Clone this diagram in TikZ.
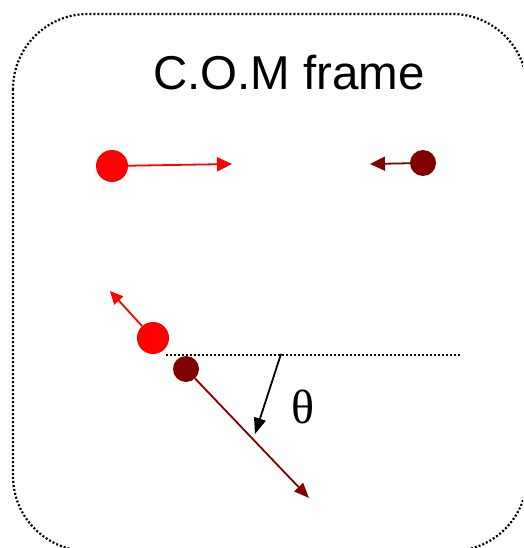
\documentclass[tikz,border=0pt]{standalone}
\usepackage{fontspec}
\setmainfont{Liberation Sans}
\newfontfamily\serifgr{Liberation Serif}
\usetikzlibrary{arrows.meta}
\definecolor{darkred}{HTML}{800000}
\tikzset{
  ball/.style={circle, fill=#1, draw=none, inner sep=0pt},
  vec/.style={draw=#1, line width=1.8pt, -{Triangle[length=15pt,width=14pt]}},
  dotline/.style={line width=2.2pt, dash pattern=on 2pt off 2pt},
}
\begin{document}
\begin{tikzpicture}[x=1pt,y=-1pt]
\clip (0,0) rectangle (523,548);
\fill[white] (0,0) rectangle (523,548);
\draw[dotline, rounded corners=75pt] (13,14) rectangle (527,551);
\node[anchor=base, inner sep=0pt, font=\fontsize{47.5}{56}\selectfont] (title) at (289,90) {C.O.M frame};
% before collision
\node[ball=red, minimum size=32pt] (r1) at (112,166) {};
\coordinate (r1tip) at (232,164);
\draw[vec=red] (r1) -- (r1tip);
\node[ball=darkred, minimum size=26pt] (d1) at (423,163) {};
\coordinate (d1tip) at (370,164);
\draw[vec=darkred] (d1) -- (d1tip);
% after collision
\node[ball=red, minimum size=32pt] (r2) at (153,338) {};
\coordinate (r2tip) at (110,291);
\draw[vec=red, -{Triangle[length=13pt,width=12pt]}] (r2) -- (r2tip);
\node[ball=darkred, minimum size=26pt] (d2) at (186,369) {};
\coordinate (d2tip) at (309,498);
\draw[vec=darkred, -{Triangle[length=15pt,width=12pt]}] (d2) -- (d2tip);
% reference line and angle
\coordinate (ls) at (166,355);
\coordinate (le) at (461,355);
\draw[dotline] (ls) -- (le);
\coordinate (as) at (281,354);
\coordinate (ae) at (255,434);
\draw[vec=black, -{Triangle[length=16pt,width=12pt]}] (as) -- (ae);
\node[anchor=base, inner sep=0pt, font=\serifgr\fontsize{48}{56}\selectfont] (theta) at (303,423) {θ};
\end{tikzpicture}
\end{document}
